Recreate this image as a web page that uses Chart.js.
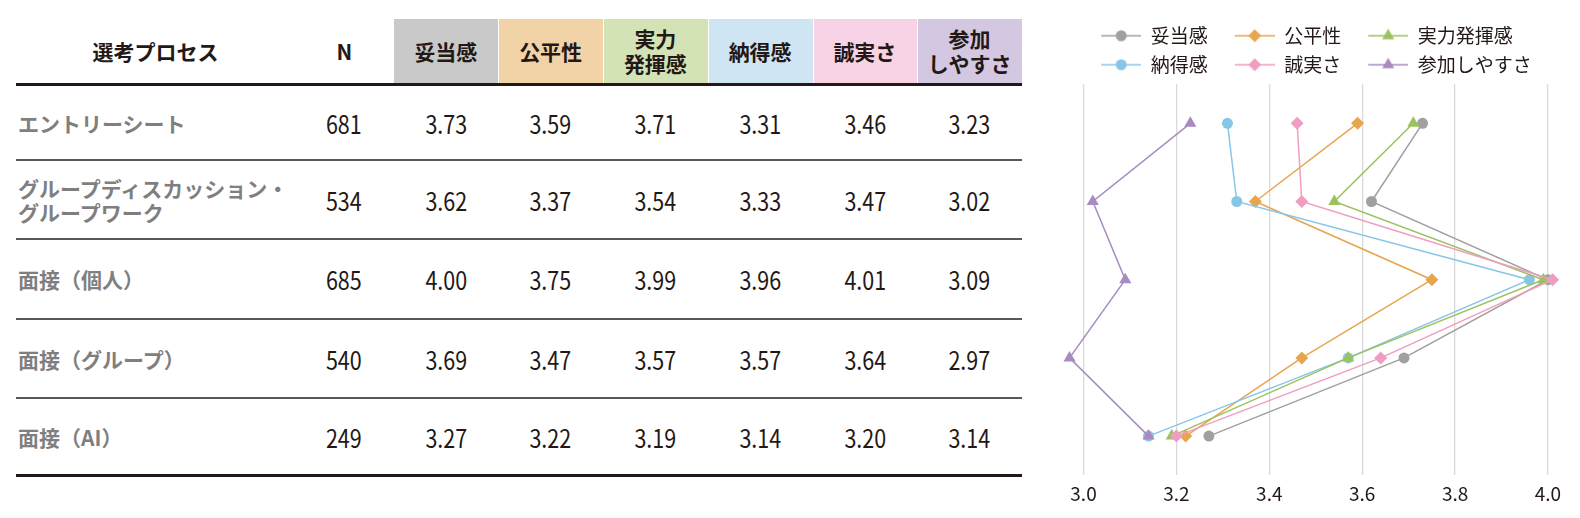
<!DOCTYPE html>
<html lang="ja">
<head>
<meta charset="utf-8">
<title>選考プロセス別の評価</title>
<script src="https://cdn.jsdelivr.net/npm/chart.js@4.4.1/dist/chart.umd.min.js"></script>
<style>
  html, body { margin: 0; padding: 0; background: #fff; }
  body { width: 1580px; height: 518px; position: relative; overflow: hidden;
         font-family: 'Noto Sans CJK JP', 'Noto Sans', sans-serif; color: #231815; }
  #table { position: absolute; left: 16px; top: 19px; display: grid;
           grid-template-columns: 279px 98.5px repeat(6, 104.75px);
           grid-template-rows: 67px 75px 79px 80px 79px 78px; }
  .cell { box-sizing: border-box; display: flex; align-items: center; justify-content: center; text-align: center; }
  .head { font-weight: 700; font-size: 21px; line-height: 25px; border-bottom: 3px solid #231815; }
  .body { font-size: 25px; border-bottom: 2px solid #595757; }
  .body .num { display: inline-block; transform: scaleX(0.86); }
  .last { border-bottom: 3px solid #231815; }
  .label { justify-content: flex-start; text-align: left; padding-left: 2px; font-weight: 700;
           font-size: 21px; line-height: 24px; color: #7f7f7f; white-space: nowrap; }
  #chartBox { position: absolute; left: 1040px; top: 0; width: 540px; height: 518px; }
</style>
</head>
<body>
<div id="table"></div>
<div id="chartBox"><canvas id="scoreChart"></canvas></div>
<script>
// data
const processes = ['エントリーシート', 'グループディスカッション・\nグループワーク', '面接（個人）', '面接（グループ）', '面接（AI）'];
const counts = [681, 534, 685, 540, 249];
const seriesNames = ['妥当感', '公平性', '実力発揮感', '納得感', '誠実さ', '参加しやすさ'];
const headerLabels = ['妥当感', '公平性', '実力\n発揮感', '納得感', '誠実さ', '参加\nしやすさ'];
const datoukan   = [3.73, 3.62, 4.00, 3.69, 3.27];
const kouheisei  = [3.59, 3.37, 3.75, 3.47, 3.22];
const jitsuryoku = [3.71, 3.54, 3.99, 3.57, 3.19];
const nattoku    = [3.31, 3.33, 3.96, 3.57, 3.14];
const seijitsu   = [3.46, 3.47, 4.01, 3.64, 3.20];
const sanka      = [3.23, 3.02, 3.09, 2.97, 3.14];
const xTicks = [3.0, 3.2, 3.4, 3.6, 3.8, 4.0];

const seriesValues = [datoukan, kouheisei, jitsuryoku, nattoku, seijitsu, sanka];
const lineColors = ['#a0a0a0', '#e8a550', '#9cc25d', '#88c6e8', '#f09dc3', '#a88bc3'];
const headerColors = ['#c9c9c9', '#f2d3a8', '#d4e3b5', '#cfe5f3', '#f8d3e5', '#d4c7e2'];
const markers = [
    { style: 'circle', r: 5.5 }, { style: 'rectRot', r: 6.5 }, { style: 'triangle', r: 7 },
    { style: 'circle', r: 5.5 }, { style: 'rectRot', r: 6.5 }, { style: 'triangle', r: 7 }
];
const drawOrder = [5, 4, 2, 3, 1, 0]; // lower = drawn on top

// table
const table = document.getElementById('table');
function addCell(text, cls, bg) {
    const d = document.createElement('div');
    d.className = 'cell ' + cls;
    d.innerHTML = text.replace('\n', '<br>');
    if (bg) d.style.background = bg;
    table.appendChild(d);
    return d;
}
const num = s => '<span class="num">' + s + '</span>';
addCell('選考プロセス', 'head');
addCell('N', 'head');
headerLabels.forEach((h, i) => {
    const d = addCell(h, 'head', headerColors[i]);
    if (i > 0) d.style.boxShadow = 'inset 1px 0 0 #fff';
});
processes.forEach((p, r) => {
    const last = r === processes.length - 1 ? ' last' : '';
    addCell(p, 'body label' + last);
    addCell(num(String(counts[r])), 'body' + last);
    seriesValues.forEach(vals => addCell(num(vals[r].toFixed(2)), 'body' + last));
});

// legend icons: line with marker
function drawMarker(g, style, r, x, y) {
    g.beginPath();
    if (style === 'circle') {
        g.arc(x, y, r, 0, Math.PI * 2);
    } else if (style === 'rectRot') {
        g.moveTo(x - r, y); g.lineTo(x, y - r); g.lineTo(x + r, y); g.lineTo(x, y + r);
    } else {
        const a = Math.PI * 2 / 3;
        g.moveTo(x, y - r);
        g.lineTo(x + Math.sin(a) * r, y - Math.cos(a) * r);
        g.lineTo(x + Math.sin(2 * a) * r, y - Math.cos(2 * a) * r);
    }
    g.closePath();
    g.fill();
}
const legendIcons = lineColors.map((color, i) => {
    const c = document.createElement('canvas');
    c.width = 57; c.height = 18;
    const g = c.getContext('2d');
    g.strokeStyle = color; g.lineWidth = 1.5;
    g.beginPath(); g.moveTo(17, 9); g.lineTo(57, 9); g.stroke();
    g.fillStyle = color;
    drawMarker(g, markers[i].style, markers[i].r, 37, 9);
    return c;
});

Chart.defaults.font.family = "'Noto Sans CJK JP', sans-serif";
Chart.defaults.color = '#231815';

const datasets = seriesNames.map((name, i) => ({
    label: name,
    data: seriesValues[i],
    borderColor: lineColors[i],
    backgroundColor: lineColors[i],
    borderWidth: 1.5,
    pointStyle: markers[i].style,
    pointRadius: markers[i].r,
    pointHoverRadius: markers[i].r,
    pointBorderWidth: 0,
    pointBackgroundColor: lineColors[i],
    order: drawOrder[i],
    clip: false,
    tension: 0
}));

new Chart(document.getElementById('scoreChart').getContext('2d'), {
    type: 'line',
    data: { labels: processes, datasets: datasets },
    options: {
        indexAxis: 'y',
        responsive: true,
        maintainAspectRatio: false,
        animation: false,
        events: [],
        layout: { padding: { left: 34.2, right: 8.8, top: 16.2, bottom: 6 } },
        plugins: {
            legend: {
                position: 'top',
                align: 'start',
                labels: {
                    usePointStyle: true,
                    pointStyleWidth: 57,
                    boxHeight: 19,
                    padding: 10,
                    color: '#231815',
                    font: { size: 19 },
                    generateLabels: chart => chart.data.datasets.map((ds, i) => ({
                        text: ds.label,
                        pointStyle: legendIcons[i],
                        fillStyle: ds.borderColor,
                        strokeStyle: ds.borderColor,
                        fontColor: '#231815',
                        lineWidth: 0,
                        hidden: false,
                        datasetIndex: i
                    }))
                }
            },
            tooltip: { enabled: false }
        },
        scales: {
            x: {
                type: 'linear',
                min: 2.98,
                max: 4.05,
                afterBuildTicks: scale => { scale.ticks = xTicks.map(v => ({ value: v })); },
                grid: { color: '#d9d9d9', lineWidth: 1.3, drawTicks: false },
                border: { display: false },
                ticks: {
                    padding: 7,
                    color: '#231815',
                    font: { size: 19 },
                    callback: v => Number(v).toFixed(1)
                }
            },
            y: { type: 'category', display: false, offset: true }
        }
    }
});
</script>
</body>
</html>
